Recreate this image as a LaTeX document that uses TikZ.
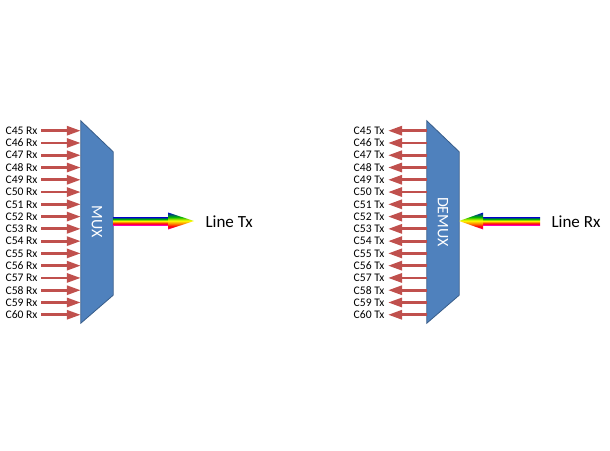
\documentclass[tikz,border=0pt]{standalone}
\usepackage{fontspec}
\setmainfont{Carlito}
\usetikzlibrary{positioning, arrows.meta}
\definecolor{muxblue}{RGB}{79, 129, 189}
\definecolor{muxedge}{RGB}{56, 93, 138}
\definecolor{chanred}{RGB}{192, 80, 77}
\pgfdeclareverticalshading{rainbow}{100bp}{color(0bp)=(magenta); color(25bp)=(magenta!70!red); color(34bp)=(red); color(42bp)=(orange); color(51bp)=(yellow); color(62bp)=(green!70!black); color(75bp)=(blue!80!black); color(100bp)=(blue!80!black)}
\newcommand{\muxbody}[1]{
\draw[muxedge, fill=muxblue, line width=0.8pt] (#1.north west) -- ([yshift=-31pt]#1.north east) -- ([yshift=28pt]#1.south east) -- (#1.south west) -- cycle;
}

\begin{document}
\begin{tikzpicture}[x=1pt, y=-1pt,
    chan/.style={font=\fontsize{11.6}{12}\selectfont, anchor=east},
    chanarrow/.style={chanred, line width=2.8pt, -{Triangle[length=14pt, width=9pt]}},
    box/.style={minimum width=32pt, minimum height=202pt, inner sep=0pt},
    boxtext/.style={rotate=-90, white, font=\fontsize{16}{17}\selectfont},
    linelabel/.style={font=\fontsize{17}{19}\selectfont, anchor=west}]
    \useasboundingbox (0,0) rectangle (610,450);

    \node[box] (mux) at (97,222) {};
    \muxbody{mux}
    \node[boxtext] (muxtext) at (mux.center) {MUX};
    \foreach \n [count=\i from 0] in {45,...,60}
    {
        \node[chan] (rx\n) at (41,130.7+12.27*\i) {C\n\ Rx};
        \draw[chanarrow] (rx\n.east) -- (rx\n.east -| mux.west);
    }
    \node[linelabel] (linetx) at (202,222) {Line Tx};
    \coordinate (txtip) at (194,221);
    \coordinate (txtail) at (txtip -| mux.east);
    \shade[shading=rainbow] ([yshift=4pt]txtail) rectangle ([xshift=-26pt, yshift=-4pt]txtip);
    \shade[shading=rainbow] ([xshift=-26pt, yshift=8.5pt]txtip) -- (txtip) -- ([xshift=-26pt, yshift=-8.5pt]txtip) -- cycle;

    \node[box] (demux) at (443,222) {};
    \muxbody{demux}
    \node[boxtext] (demuxtext) at (demux.center) {DEMUX};
    \foreach \n [count=\i from 0] in {45,...,60}
    {
        \node[chan] (tx\n) at (388,130.7+12.27*\i) {C\n\ Tx};
        \draw[chanarrow] (tx\n.east -| demux.west) -- (tx\n.east);
    }
    \node[linelabel] (linerx) at (548,222) {Line Rx};
    \coordinate (rxtip) at ([yshift=1pt]demux.east);
    \coordinate (rxtail) at (540,221);
    \shade[shading=rainbow] ([xshift=24pt, yshift=4pt]rxtip) rectangle ([yshift=-4pt]rxtail);
    \shade[shading=rainbow] ([xshift=24pt, yshift=8.5pt]rxtip) -- (rxtip) -- ([xshift=24pt, yshift=-8.5pt]rxtip) -- cycle;
\end{tikzpicture}
\end{document}
